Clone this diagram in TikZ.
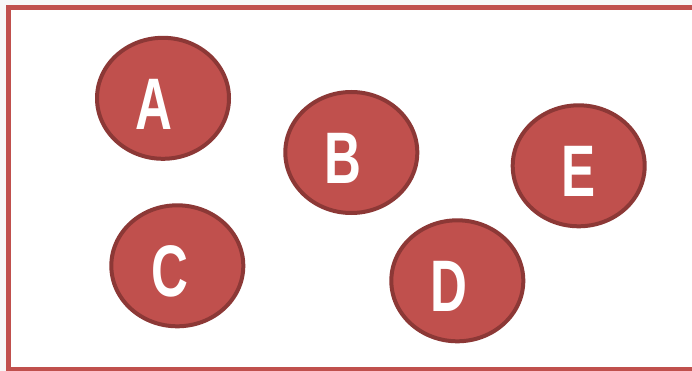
\documentclass[tikz,border=0pt]{standalone}
\usepackage{fontspec}
\newfontfamily\lettfont[FakeStretch=0.7]{Liberation Sans Bold}
\usetikzlibrary{shapes.geometric}

\definecolor{bubble}{HTML}{C0504D}
\definecolor{bubbleline}{HTML}{8C3836}
\definecolor{pagegray}{HTML}{F7F7F7}

% letter inside a bubble, moved right by #1 and a bit below the middle
\newcommand\bubbletext[2]{\raisebox{-31pt}[0pt][0pt]{\kern#1\relax #2\kern-#1\relax}}

\tikzset{
	bubblenode/.style={ellipse, fill=bubble, draw=bubbleline, line width=4pt,
		minimum width=132pt, minimum height=121pt, inner sep=0pt,
		text=white, font=\lettfont\fontsize{73}{73}\selectfont},
	frameline/.style={draw=bubble, line width=5pt}
}

\begin{document}
\begin{tikzpicture}[x=1pt,y=-1pt]

	\useasboundingbox (0,0) rectangle (692,371);
	\clip (0,0) rectangle (692,371);
	\fill[pagegray] (0,0) rectangle (692,371);
	
	\draw[frameline, fill=white] (8.5,8) rectangle (720,369.5);
	
	\node[bubblenode] (a) at (163,98.3) {\bubbletext{-9pt}{A}};
	\node[bubblenode] (b) at (351.3,152.5) {\bubbletext{-8pt}{B}};
	\node[bubblenode] (c) at (177.3,265.8) {\bubbletext{-7pt}{C}};
	\node[bubblenode] (d) at (457.3,280.8) {\bubbletext{-8pt}{D}};
	\node[bubblenode] (e) at (578.7,165.8) {\bubbletext{0pt}{E}};

\end{tikzpicture}
\end{document}
